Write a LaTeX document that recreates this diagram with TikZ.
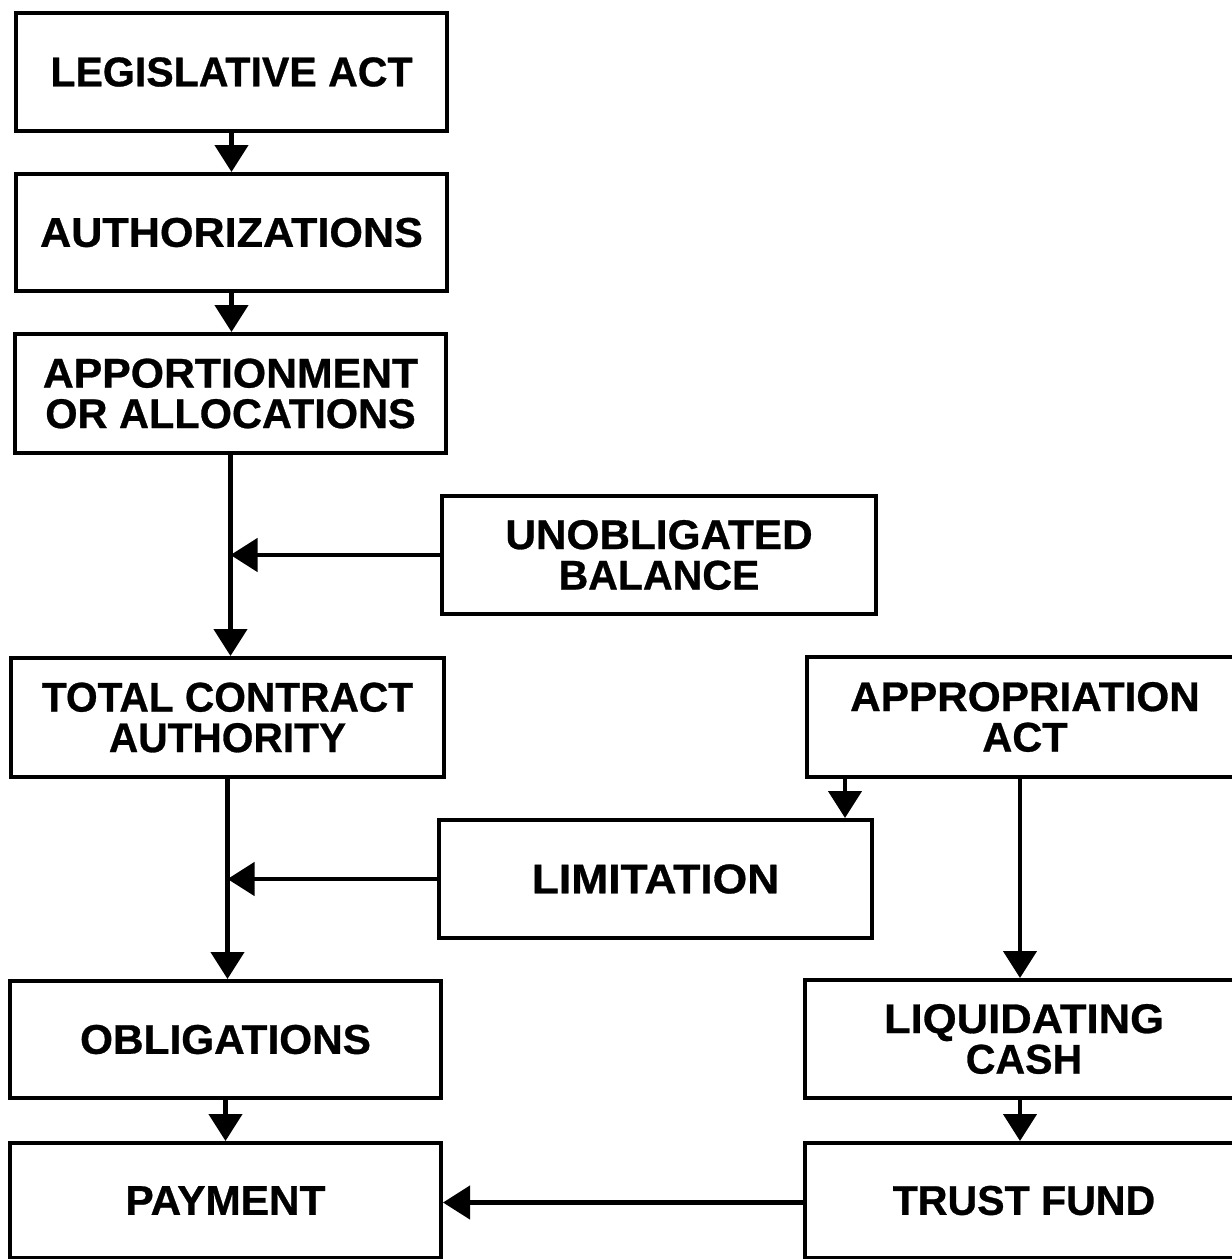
\documentclass[tikz,border=0pt]{standalone}
\usepackage{fontspec}
\usepackage{graphicx}
\setmainfont{Liberation Sans}[BoldFeatures={FakeBold=0.7}]
\usetikzlibrary{arrows.meta}
\newcommand{\sx}[2]{\scalebox{#1}[1]{#2}}
\begin{document}
\begin{tikzpicture}[x=1pt,y=-1pt,
  flowbox/.style={draw=black, line width=4pt, rectangle, inner sep=0pt, align=center,
    font=\fontsize{41.5}{40.5}\selectfont\bfseries},
  arr/.style={line width=4.5pt, -{Triangle[length=27pt,width=33pt]}},
]
\useasboundingbox (0,0) rectangle (1232,1259);
\fill[white] (0,0) rectangle (1232,1259);
\clip (0,0) rectangle (1232,1259);

% left column
\node[flowbox, minimum width=431pt, minimum height=118pt] (leg) at (231.5,72) {\sx{0.99}{LEGISLATIVE ACT}};
\node[flowbox, minimum width=431pt, minimum height=117pt] (auth) at (231.5,232.5) {\sx{1.04}{AUTHORIZATIONS}};
\node[flowbox, minimum width=431pt, minimum height=119pt] (app) at (230.5,393.5) {\sx{1.03}{APPORTIONMENT}\\\sx{1.0}{OR ALLOCATIONS}};
\node[flowbox, minimum width=434pt, minimum height=118pt] (unob) at (659,555) {\sx{1.02}{UNOBLIGATED}\\\sx{0.99}{BALANCE}};
\node[flowbox, minimum width=433pt, minimum height=119pt] (tca) at (227.5,717.5) {\raisebox{-5pt}{\sx{0.98}{TOTAL CONTRACT}}\\\raisebox{-5pt}{\sx{0.98}{AUTHORITY}}};
\node[flowbox, minimum width=433pt, minimum height=118pt] (lim) at (655.5,879) {\sx{1.07}{LIMITATION}};
\node[flowbox, minimum width=431pt, minimum height=117pt] (obl) at (225.5,1039.5) {\sx{1.02}{OBLIGATIONS}};
\node[flowbox, minimum width=431pt, minimum height=115pt] (pay) at (225.5,1200.5) {\sx{1.02}{PAYMENT}};

% right column
\node[flowbox, minimum width=436pt, minimum height=120pt] (appr) at (1025,717) {\raisebox{-4pt}{\sx{1.02}{APPROPRIATION}}\\\raisebox{-4pt}{\sx{1.0}{ACT}}};
\node[flowbox, minimum width=438pt, minimum height=118pt] (liq) at (1024,1039) {\sx{1.05}{LIQUIDATING}\\\sx{0.99}{CASH}};
\node[flowbox, minimum width=438pt, minimum height=115pt] (trust) at (1024,1200.5) {\sx{0.99}{TRUST FUND}};

% connectors
\draw[arr] (leg.south) -- (auth.north);
\draw[arr] (auth.south) -- (auth.south |- app.north);
\draw[arr] (app.south) -- (app.south |- tca.north);
\draw[arr] (unob.west) -- (unob.west -| app.south);
\draw[arr] (tca.south) -- (tca.south |- obl.north);
\draw[arr] (lim.west) -- (lim.west -| tca.south);
\draw[arr] ([xshift=40pt]appr.south west) -- ([xshift=40pt]appr.south west |- lim.north);
\draw[arr] ([xshift=-5pt]appr.south) -- ([xshift=-5pt]appr.south |- liq.north);
\draw[arr] ([xshift=-4pt]liq.south) -- ([xshift=-4pt]liq.south |- trust.north);
\draw[arr] (obl.south) -- (obl.south |- pay.north);
\draw[arr] ([yshift=-2pt]trust.west) -- ([yshift=-2pt]trust.west -| pay.east);
\end{tikzpicture}
\end{document}
